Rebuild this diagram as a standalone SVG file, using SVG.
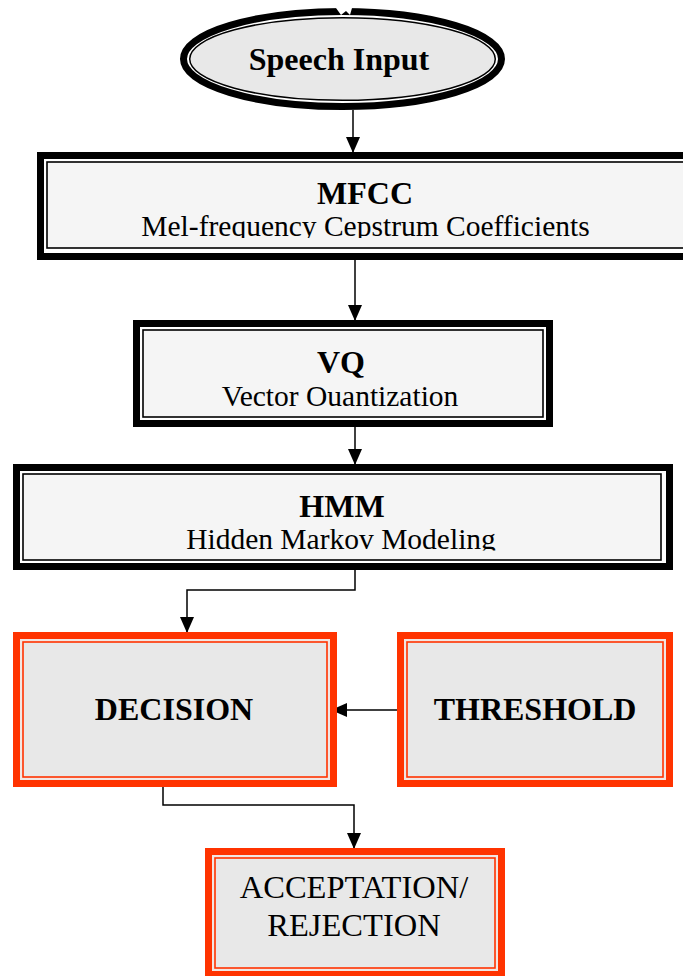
<svg xmlns="http://www.w3.org/2000/svg" width="683" height="976" viewBox="0 0 683 976">
  <style>
    .thick-k { fill: #ffffff; stroke: #000000; stroke-width: 7; }
    .thin-k { fill: #f5f5f5; stroke: #000000; stroke-width: 1.6; }
    .thick-r { fill: #f1e6e3; stroke: #ff3300; stroke-width: 7; }
    .thin-r { fill: #e8e8e8; stroke: #ff3300; stroke-width: 1.6; }
    .head { font-family: "Liberation Serif", "Times New Roman", serif; font-weight: bold; font-size: 32px; fill: #000; text-anchor: middle; }
    .sub { font-family: "Liberation Serif", "Times New Roman", serif; font-size: 29.5px; fill: #000; text-anchor: middle; }
    .big { font-family: "Liberation Serif", "Times New Roman", serif; font-size: 32.5px; fill: #000; text-anchor: middle; }
    .wire { fill: none; stroke: #000000; stroke-width: 1.5; }
  </style>
  <defs>
    <marker id="arrow" markerUnits="userSpaceOnUse" markerWidth="16" markerHeight="14" viewBox="0 0 16 14" refX="16" refY="7" orient="auto">
      <path d="M0,0 L16,7 L0,14 Z" fill="#000000"/>
    </marker>
    <clipPath id="clip-mfcc"><rect x="0" y="150" width="683" height="88"/></clipPath>
    <clipPath id="clip-vq"><rect x="0" y="320" width="683" height="88"/></clipPath>
    <clipPath id="clip-hmm"><rect x="0" y="464" width="683" height="86.5"/></clipPath>
  </defs>

  <!-- connectors -->
  <g id="connectors">
    <path class="wire" d="M353,110 V153" marker-end="url(#arrow)"/>
    <path class="wire" d="M355,260 V321" marker-end="url(#arrow)"/>
    <path class="wire" d="M355,427 V465" marker-end="url(#arrow)"/>
    <path class="wire" d="M355,570 V590 H187 V633" marker-end="url(#arrow)"/>
    <path class="wire" d="M403,710 H331" marker-end="url(#arrow)"/>
    <path class="wire" d="M163,787 V805 H354 V849" marker-end="url(#arrow)"/>
  </g>

  <!-- start terminal -->
  <g id="speech-input">
    <ellipse cx="342.5" cy="59" rx="159" ry="47.5" fill="#ffffff" stroke="#000000" stroke-width="7"/>
    <ellipse cx="342.5" cy="59" rx="152.8" ry="41.3" fill="#e8e8e8" stroke="#000000" stroke-width="1.5"/>
    <path d="M336,8 L341,15 L346,11 L350,15 L352,8 Z" fill="#ffffff"/>
    <text class="head" x="339" y="70">Speech Input</text>
  </g>

  <g id="mfcc">
    <rect class="thick-k" x="40.5" y="155.5" width="660" height="101"/>
    <rect class="thin-k" x="47" y="162" width="660" height="86"/>
    <text class="head" x="365" y="204">MFCC</text>
    <text class="sub" x="365.5" y="236" clip-path="url(#clip-mfcc)">Mel-frequency Cepstrum Coefficients</text>
  </g>

  <g id="vq">
    <rect class="thick-k" x="136.5" y="323.5" width="413" height="100"/>
    <rect class="thin-k" x="143" y="330" width="400" height="87"/>
    <text class="head" x="341" y="373">VQ</text>
    <text class="sub" x="340" y="406" clip-path="url(#clip-vq)">Vector Ouantization</text>
  </g>

  <g id="hmm">
    <rect class="thick-k" x="16.5" y="467.5" width="653" height="99"/>
    <rect class="thin-k" x="23" y="474" width="638" height="86"/>
    <text class="head" x="342" y="517">HMM</text>
    <text class="sub" x="341" y="548.5" clip-path="url(#clip-hmm)">Hidden Markov Modeling</text>
  </g>

  <g id="decision">
    <rect class="thick-r" x="16.5" y="635.5" width="317" height="148"/>
    <rect class="thin-r" x="23" y="642" width="304" height="135"/>
    <text class="head" x="174" y="720">DECISION</text>
  </g>

  <g id="threshold">
    <rect class="thick-r" x="400.5" y="635.5" width="269" height="148"/>
    <rect class="thin-r" x="407" y="642" width="256" height="135"/>
    <text class="head" x="535" y="720">THRESHOLD</text>
  </g>

  <g id="acceptation">
    <rect class="thick-r" x="208.5" y="851.5" width="293" height="123"/>
    <rect class="thin-r" x="215" y="858" width="280" height="110"/>
    <text class="big" x="354" y="898">ACCEPTATION/</text>
    <text class="big" x="354" y="936">REJECTION</text>
  </g>
</svg>
